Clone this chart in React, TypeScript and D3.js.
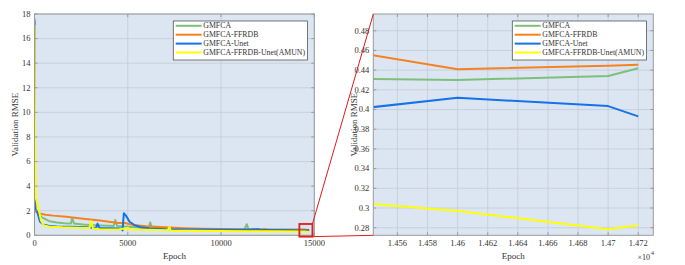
import React from 'react';
import * as d3 from 'd3';

type Pt = [number, number];

const seriesNames = ['GMFCA', 'GMFCA-FFRDB', 'GMFCA-Unet', 'GMFCA-FFRDB-Unet(AMUN)'];
const seriesColors = ['#7dc07a', '#f5821f', '#1473e6', '#ffff00'];

// [epoch, validation RMSE]
const gmfca: Pt[] = [
  [0, 17.7], [20, 4.2], [60, 2.1], [150, 1.85], [400, 1.45], [800, 1.15], [1200, 1.05], [1600, 0.98],
  [1950, 0.95], [2020, 1.4], [2120, 0.95], [2600, 0.88], [3000, 0.84], [3500, 0.8], [4000, 0.77],
  [4250, 0.76], [4330, 1.25], [4430, 0.76], [4800, 0.72], [5200, 0.68], [5700, 0.63], [6120, 0.6],
  [6200, 1.05], [6300, 0.6], [7000, 0.55], [8000, 0.51], [9000, 0.49], [10000, 0.47], [11250, 0.46],
  [11380, 0.9], [11480, 0.46], [12500, 0.45], [13500, 0.44], [14500, 0.432], [14600, 0.43],
  [14700, 0.434], [14720, 0.442],
];
const ffrdb: Pt[] = [
  [0, 13.6], [20, 3.0], [60, 1.95], [200, 1.8], [600, 1.68], [1000, 1.6], [1700, 1.5], [2500, 1.36],
  [3500, 1.2], [4500, 1.0], [4850, 1.0], [5300, 0.84], [6000, 0.74], [7000, 0.65], [8000, 0.58],
  [9000, 0.54], [10000, 0.51], [11000, 0.5], [12000, 0.49], [12400, 0.52], [12450, 0.49],
  [13500, 0.47], [14500, 0.466], [14600, 0.441], [14700, 0.4445], [14720, 0.4455],
];
const unet: Pt[] = [
  [0, 17.5], [15, 2.5], [40, 2.1], [150, 1.9], [300, 1.1], [500, 0.85], [800, 0.75], [1200, 0.72],
  [2000, 0.7], [2800, 0.65], [3300, 0.6], [3380, 0.95], [3480, 0.6], [4000, 0.57], [4650, 0.55],
  [4720, 0.4], [4790, 1.8], [4900, 1.6], [5100, 1.1], [5400, 0.8], [5700, 0.65], [6200, 0.55],
  [7000, 0.5], [8000, 0.48], [9000, 0.47], [10000, 0.46], [11500, 0.45], [12000, 0.5], [12050, 0.45],
  [13500, 0.43], [14500, 0.395], [14600, 0.412], [14700, 0.4035], [14720, 0.393],
];
const amun: Pt[] = [
  [0, 17.1], [30, 8], [80, 3], [200, 2.3], [350, 1.2], [500, 0.8], [800, 0.7], [1500, 0.65],
  [2300, 0.62], [2950, 0.6], [3040, 1.15], [3140, 0.55], [3500, 0.5], [4500, 0.48], [5000, 0.6],
  [5100, 0.48], [6000, 0.45], [7150, 0.42], [7230, 0.7], [7300, 0.38], [8500, 0.36], [10000, 0.34],
  [11500, 0.33], [13000, 0.32], [14500, 0.3095], [14600, 0.297], [14700, 0.2784], [14720, 0.2824],
];
const allSeries = [gmfca, ffrdb, unet, amun];

const leftXTicks = [0, 5000, 10000, 15000];
const leftYTicks = [0, 2, 4, 6, 8, 10, 12, 14, 16, 18];
const rightXTicks = [14560, 14580, 14600, 14620, 14640, 14660, 14680, 14700, 14720];
const rightYTicks = [0.28, 0.3, 0.32, 0.34, 0.36, 0.38, 0.4, 0.42, 0.44, 0.46, 0.48];

const leftXDomain = [0, 15000];
const leftYDomain = [0, 18];
const rightXDomain = [14544, 14730];
const rightYDomain = [0.2723, 0.497];
// red zoom box, in left-axes data units: [x0, x1], [y0, y1]
const zoomBoxX = [14200, 14900];
const zoomBoxY = [-0.11, 0.92];

const FONT = '"Liberation Serif", "Times New Roman", serif';
const BG = '#dce6f2';
const GRID = '#c3ccd6';
const AXIS = '#9a9a9a';
const TXT = '#333';

type PanelProps = {
  id: string;
  x: d3.ScaleLinear<number, number>;
  y: d3.ScaleLinear<number, number>;
  xTicks: number[];
  yTicks: number[];
  xFmt: (v: number) => string;
  yFmt: (v: number) => string;
};

const Panel = ({ id, x, y, xTicks, yTicks, xFmt, yFmt }: PanelProps) => {
  const [x0, x1] = x.range();
  const [y1, y0] = y.range();
  const line = d3.line<Pt>().x(d => x(d[0])).y(d => y(d[1]));
  const tk = 3;
  return (
    <g>
      <defs>
        <clipPath id={id}>
          <rect x={x0} y={y0} width={x1 - x0} height={y1 - y0} />
        </clipPath>
      </defs>
      <rect x={x0} y={y0} width={x1 - x0} height={y1 - y0} fill={BG} />
      {xTicks.map(t => (
        <line key={'gx' + t} x1={x(t)} x2={x(t)} y1={y0} y2={y1} stroke={GRID} strokeWidth={0.8} />
      ))}
      {yTicks.map(t => (
        <line key={'gy' + t} x1={x0} x2={x1} y1={y(t)} y2={y(t)} stroke={GRID} strokeWidth={0.8} />
      ))}
      <g clipPath={`url(#${id})`}>
        {allSeries.map((s, i) => (
          <path key={i} d={line(s) || ''} fill="none" stroke={seriesColors[i]} strokeWidth={2}
            strokeLinejoin="round" />
        ))}
      </g>
      <rect x={x0} y={y0} width={x1 - x0} height={y1 - y0} fill="none" stroke={AXIS} strokeWidth={1} />
      {xTicks.map(t => (
        <g key={'tx' + t}>
          <line x1={x(t)} x2={x(t)} y1={y1} y2={y1 - tk} stroke={AXIS} />
          <line x1={x(t)} x2={x(t)} y1={y0} y2={y0 + tk} stroke={AXIS} />
          <text x={x(t)} y={y1 + 11} textAnchor="middle" fontSize={8.5} fill={TXT}>{xFmt(t)}</text>
        </g>
      ))}
      {yTicks.map(t => (
        <g key={'ty' + t}>
          <line x1={x0} x2={x0 + tk} y1={y(t)} y2={y(t)} stroke={AXIS} />
          <line x1={x1} x2={x1 - tk} y1={y(t)} y2={y(t)} stroke={AXIS} />
          <text x={x0 - 4} y={y(t)} dy="0.33em" textAnchor="end" fontSize={8.5} fill={TXT}>{yFmt(t)}</text>
        </g>
      ))}
      <text x={(x0 + x1) / 2} y={y1 + 23.5} textAnchor="middle" fontSize={9} fill={TXT}>Epoch</text>
      <text transform={`translate(${x0 - 16.5},${(y0 + y1) / 2}) rotate(-90)`} textAnchor="middle"
        fontSize={9} fill={TXT}>Validation RMSE</text>
      <g transform={`translate(${x1 - 141},21)`}>
        <rect x={0} y={0} width={134.2} height={39} fill="#fff" stroke="#555" strokeWidth={0.8} />
        {seriesNames.map((n, i) => (
          <g key={n} transform={`translate(0,${4.8 + i * 8.9})`}>
            <line x1={2.4} x2={28.4} y1={0} y2={0} stroke={seriesColors[i]} strokeWidth={2} />
            <text x={30} y={0} dy="0.33em" fontSize={7.8} fill={TXT}>{n}</text>
          </g>
        ))}
      </g>
    </g>
  );
};

export default function App() {
  const xL = d3.scaleLinear().domain(leftXDomain).range([34.5, 314.3]);
  const yL = d3.scaleLinear().domain(leftYDomain).range([235.3, 14]);
  const xR = d3.scaleLinear().domain(rightXDomain).range([373.3, 653.3]);
  const yR = d3.scaleLinear().domain(rightYDomain).range([235.3, 14]);

  const bx0 = xL(zoomBoxX[0]);
  const bx1 = xL(zoomBoxX[1]);
  const by0 = yL(zoomBoxY[1]);
  const by1 = yL(zoomBoxY[0]);

  const fmtRightX = (v: number) => d3.format('.4~f')(v / 1e4);
  return (
    <svg width={685} height={265} style={{ position: 'absolute', left: 0, top: 0 }} fontFamily={FONT}>
      <rect width={685} height={265} fill="#fff" />
      <Panel id="clipL" x={xL} y={yL} xTicks={leftXTicks} yTicks={leftYTicks}
        xFmt={d3.format('d')} yFmt={d3.format('d')} />
      <Panel id="clipR" x={xR} y={yR} xTicks={rightXTicks} yTicks={rightYTicks}
        xFmt={fmtRightX} yFmt={d3.format('~g')} />
      <text x={650} y={260} textAnchor="end" fontSize={8} fill={TXT}>×10</text>
      <text x={651} y={255} fontSize={6} fill={TXT}>4</text>
      <rect x={bx0} y={by0} width={bx1 - bx0} height={by1 - by0} fill="none" stroke="#e01b1b" strokeWidth={1.8} />
      <line x1={bx1} y1={by0} x2={xR.range()[0]} y2={yR.range()[1]} stroke="#e01b1b" strokeWidth={1} />
      <line x1={bx1} y1={by1} x2={xR.range()[0]} y2={yR.range()[0]} stroke="#e01b1b" strokeWidth={1} />
    </svg>
  );
}
